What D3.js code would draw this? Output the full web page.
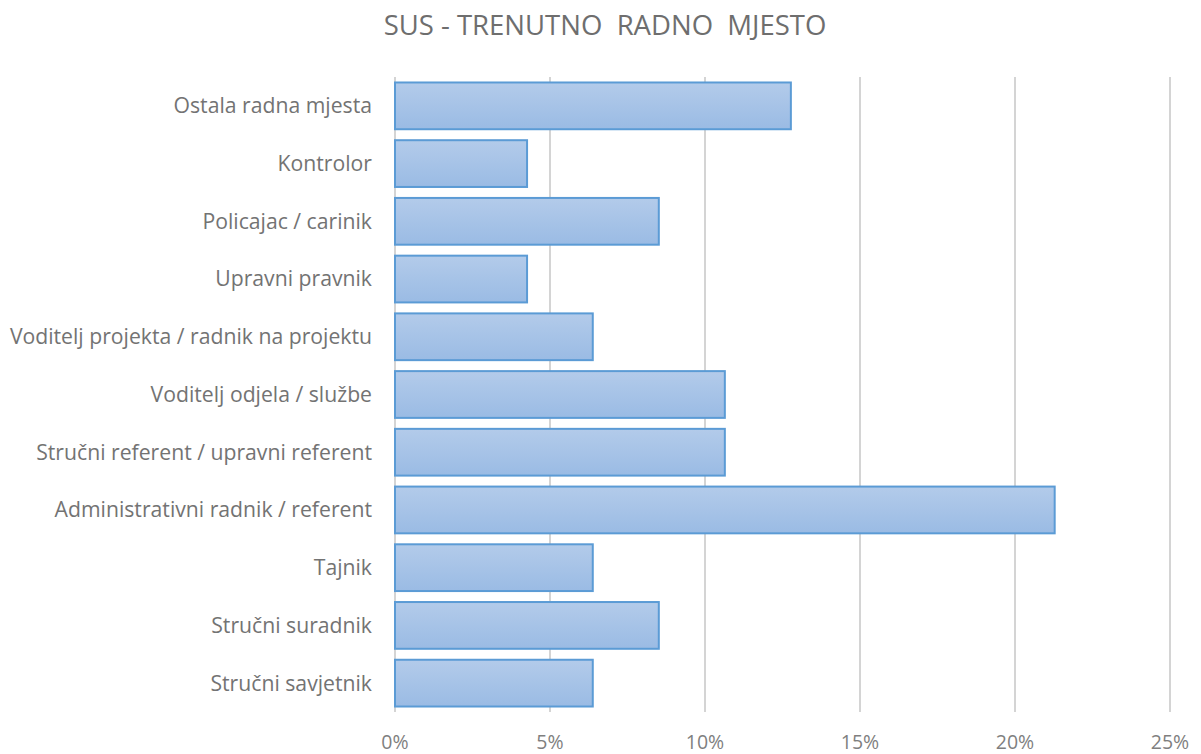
<!DOCTYPE html>
<html>
<head>
<meta charset="utf-8">
<script src="https://cdn.jsdelivr.net/npm/d3@7"></script>
<style>
  body { margin: 0; background: #fff; }
  text { font-family: "Open Sans", "Liberation Sans", sans-serif; }
</style>
</head>
<body>
<script>
// categories from top to bottom
var categories = [
  "Ostala radna mjesta",
  "Kontrolor",
  "Policajac / carinik",
  "Upravni pravnik",
  "Voditelj projekta / radnik na projektu",
  "Voditelj odjela / službe",
  "Stručni referent / upravni referent",
  "Administrativni radnik / referent",
  "Tajnik",
  "Stručni suradnik",
  "Stručni savjetnik"
];
var values = [12.77, 4.26, 8.51, 4.26, 6.38, 10.64, 10.64, 21.28, 6.38, 8.51, 6.38];
var ticks = [0, 5, 10, 15, 20, 25];

var w = 1201, h = 754;
var plotLeft = 395, plotRight = 1170, plotTop = 77, plotBottom = 712;

var svg = d3.select("body").append("svg")
  .attr("width", w)
  .attr("height", h);

var defs = svg.append("defs");
var grad = defs.append("linearGradient")
  .attr("id", "barGrad")
  .attr("x1", 0).attr("y1", 0).attr("x2", 0).attr("y2", 1);
grad.append("stop").attr("offset", "0%").attr("stop-color", "#b3cbea");
grad.append("stop").attr("offset", "100%").attr("stop-color", "#9abbe4");

var x = d3.scaleLinear().domain([0, 25]).range([plotLeft, plotRight]);
var y = d3.scaleBand().domain(categories).range([plotTop, plotBottom])
  .paddingInner(0.19).paddingOuter(0.095);

// title
svg.append("text")
  .attr("x", 605)
  .attr("y", 25)
  .attr("dy", "0.35em")
  .attr("text-anchor", "middle")
  .attr("fill", "#6e6e6e")
  .style("font-size", "27.5px")
  .style("white-space", "pre")
  .text("SUS - TRENUTNO  RADNO  MJESTO");

// vertical gridlines
svg.append("g").selectAll("line")
  .data(ticks)
  .enter().append("line")
  .attr("x1", function(d){ return x(d); })
  .attr("x2", function(d){ return x(d); })
  .attr("y1", plotTop)
  .attr("y2", plotBottom)
  .attr("stroke", "#d4d4d4")
  .attr("stroke-width", 2);

// bars
svg.append("g").selectAll("rect")
  .data(values)
  .enter().append("rect")
  .attr("x", x(0))
  .attr("y", function(d, i){ return y(categories[i]); })
  .attr("width", function(d){ return x(d) - x(0); })
  .attr("height", y.bandwidth())
  .attr("fill", "url(#barGrad)")
  .attr("stroke", "#5b9bd5")
  .attr("stroke-width", 2);

// category labels
svg.append("g").selectAll("text")
  .data(categories)
  .enter().append("text")
  .attr("x", 372)
  .attr("y", function(d){ return y(d) + y.bandwidth() / 2; })
  .attr("dy", "0.35em")
  .attr("text-anchor", "end")
  .attr("fill", "#737373")
  .style("font-size", "21.2px")
  .text(function(d){ return d; });

// tick labels
svg.append("g").selectAll("text")
  .data(ticks)
  .enter().append("text")
  .attr("x", function(d){ return x(d); })
  .attr("y", 742)
  .attr("dy", "0.35em")
  .attr("text-anchor", "middle")
  .attr("fill", "#7f7f7f")
  .style("font-size", "19.5px")
  .text(function(d){ return d + "%"; });
</script>
</body>
</html>
